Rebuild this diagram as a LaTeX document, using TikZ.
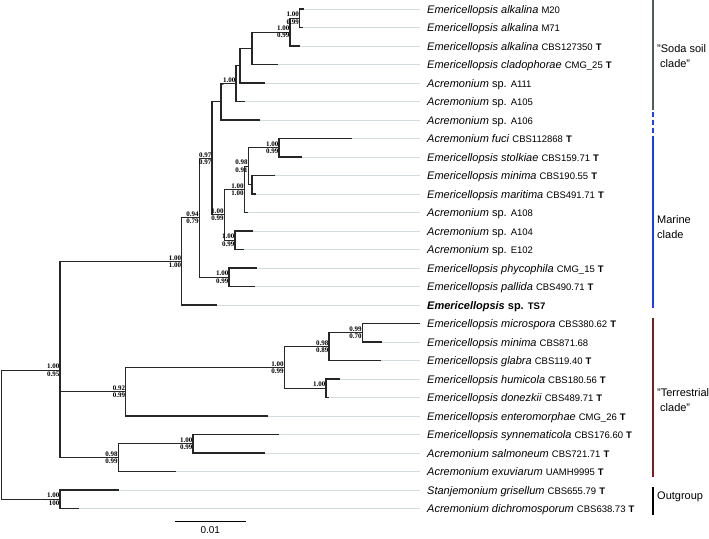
\documentclass[tikz,border=0pt]{standalone}
\usepackage{fontspec}
\setmainfont{Liberation Sans}
\newfontfamily\suppfont{Liberation Serif}

\definecolor{guidegray}{RGB}{208,222,224}
\definecolor{sodagreen}{RGB}{78,96,86}
\definecolor{marineblue}{RGB}{30,60,255}
\definecolor{terrared}{RGB}{120,30,30}

\newcommand{\spn}[1]{\textit{#1}}
\newcommand{\acc}[1]{{\fontsize{9.5}{11}\selectfont #1}}
\newcommand{\typ}{{\fontsize{9.5}{11}\selectfont\bfseries T}}
\newcommand{\supp}[3]{%
  \node[support, anchor=south east] (#1-pp) at (#1) {#2};
  \node[support, anchor=north east] (#1-bs) at (#1) {#3};}

\tikzset{
  branch/.style={draw=black!85, line width=1.1pt},
  guide/.style={draw=guidegray, line width=0.9pt},
  taxon/.style={anchor=west, inner sep=0pt, text height=8pt, text depth=0pt,
    font=\fontsize{11}{13}\selectfont},
  support/.style={inner xsep=0.4pt, inner ysep=1pt,
    font=\suppfont\bfseries\fontsize{7}{8}\selectfont},
  cladebar/.style={line width=1.3pt},
  cladename/.style={anchor=west, align=left, inner sep=0pt,
    font=\fontsize{11}{15}\selectfont},
}

\begin{document}
\begin{tikzpicture}[x=1pt,y=-1pt]
  \useasboundingbox (0,0) rectangle (709,538);

  % tips and guide lines
  \foreach \n/\x [count=\i from 0] in {m20/304,m71/303,alk/300,cla/278,a111/265,
      a105/245,a106/260,fuc/351.7,sto/302,min/275,mar/256,a108/247.7,a104/253,
      e102/244,phy/256.7,pal/255,ts7/216.7,mic/420,mi2/381.7,gla/381,hum/340,
      don/329,ent/268,syn/279,sal/265,exu/176,gri/119,dic/79}{
    \coordinate (\n) at (\x,{9+18.5*\i});
    \coordinate (\n-e) at (420,{9+18.5*\i});
    \draw[guide] (\n) -- (\n-e);
  }

  % taxon names
  \foreach \n/\t in {
      m20/{\spn{Emericellopsis alkalina} \acc{M20}},
      m71/{\spn{Emericellopsis alkalina} \acc{M71}},
      alk/{\spn{Emericellopsis alkalina} \acc{CBS127350} \typ},
      cla/{\spn{Emericellopsis cladophorae} \acc{CMG\_25} \typ},
      a111/{\spn{Acremonium} sp. \acc{A111}},
      a105/{\spn{Acremonium} sp. \acc{A105}},
      a106/{\spn{Acremonium} sp. \acc{A106}},
      fuc/{\spn{Acremonium fuci} \acc{CBS112868} \typ},
      sto/{\spn{Emericellopsis stolkiae} \acc{CBS159.71} \typ},
      min/{\spn{Emericellopsis minima} \acc{CBS190.55} \typ},
      mar/{\spn{Emericellopsis maritima} \acc{CBS491.71} \typ},
      a108/{\spn{Acremonium} sp. \acc{A108}},
      a104/{\spn{Acremonium} sp. \acc{A104}},
      e102/{\spn{Acremonium} sp. \acc{E102}},
      phy/{\spn{Emericellopsis phycophila} \acc{CMG\_15} \typ},
      pal/{\spn{Emericellopsis pallida} \acc{CBS490.71} \typ},
      ts7/{\bfseries\spn{Emericellopsis} sp. \acc{TS7}},
      mic/{\spn{Emericellopsis microspora} \acc{CBS380.62} \typ},
      mi2/{\spn{Emericellopsis minima} \acc{CBS871.68}},
      gla/{\spn{Emericellopsis glabra} \acc{CBS119.40} \typ},
      hum/{\spn{Emericellopsis humicola} \acc{CBS180.56} \typ},
      don/{\spn{Emericellopsis donezkii} \acc{CBS489.71} \typ},
      ent/{\spn{Emericellopsis enteromorphae} \acc{CMG\_26} \typ},
      syn/{\spn{Emericellopsis synnematicola} \acc{CBS176.60} \typ},
      sal/{\spn{Acremonium salmoneum} \acc{CBS721.71} \typ},
      exu/{\spn{Acremonium exuviarum} \acc{UAMH9995} \typ},
      gri/{\spn{Stanjemonium grisellum} \acc{CBS655.79} \typ},
      dic/{\spn{Acremonium dichromosporum} \acc{CBS638.73} \typ}}{
    \node[taxon, xshift=7pt] (\n-t) at (\n-e) {\t};
  }

  % "Soda soil clade"
  \coordinate (nM) at (299.5,18.25);
  \coordinate (nA) at (290,32.1);
  \coordinate (nC) at (252,48.3);
  \coordinate (n111) at (240,65.7);
  \coordinate (n105) at (236,83.6);
  \coordinate (n106) at (221,101.8);
  \draw[branch] (nM) |- (m20) (nM) |- (m71);
  \draw[branch] (nA) |- (nM) (nA) |- (alk);
  \draw[branch] (nC) |- (nA) (nC) |- (cla);
  \draw[branch] (n111) |- (nC) (n111) |- (a111);
  \draw[branch] (n105) |- (n111) (n105) |- (a105);
  \draw[branch] (n106) |- (n105) (n106) |- (a106);

  % Marine clade
  \coordinate (nFS) at (279,147.75);
  \coordinate (nMM) at (252,184.75);
  \coordinate (nFM) at (248.3,166.25);
  \coordinate (n108) at (244.3,189.4);
  \coordinate (nAE) at (235,240.25);
  \coordinate (nMA) at (224.3,214.8);
  \coordinate (n097) at (212,158.3);
  \coordinate (nPP) at (229,277.25);
  \coordinate (n094) at (199.3,217.8);
  \coordinate (n100) at (181.7,261.4);
  \draw[branch] (nFS) |- (fuc) (nFS) |- (sto);
  \draw[branch] (nMM) |- (min) (nMM) |- (mar);
  \draw[branch] (nFM) |- (nFS) (nFM) |- (nMM);
  \draw[branch] (n108) |- (nFM) (n108) |- (a108);
  \draw[branch] (nAE) |- (a104) (nAE) |- (e102);
  \draw[branch] (nMA) |- (n108) (nMA) |- (nAE);
  \draw[branch] (n097) |- (n106) (n097) |- (nMA);
  \draw[branch] (nPP) |- (phy) (nPP) |- (pal);
  \draw[branch] (n094) |- (n097) (n094) |- (nPP);
  \draw[branch] (n100) |- (n094) (n100) |- (ts7);

  % "Terrestrial clade"
  \coordinate (nMC) at (362.3,332.75);
  \coordinate (nGL) at (329,346.6);
  \coordinate (nHD) at (326,388.25);
  \coordinate (nT1) at (284.3,367.4);
  \coordinate (n092) at (125.7,391.7);
  \coordinate (nSS) at (193,443.75);
  \coordinate (n098) at (118.3,457.6);
  \draw[branch] (nMC) |- (mic) (nMC) |- (mi2);
  \draw[branch] (nGL) |- (nMC) (nGL) |- (gla);
  \draw[branch] (nHD) |- (hum) (nHD) |- (don);
  \draw[branch] (nT1) |- (nGL) (nT1) |- (nHD);
  \draw[branch] (n092) |- (nT1) (n092) |- (ent);
  \draw[branch] (nSS) |- (syn) (nSS) |- (sal);
  \draw[branch] (n098) |- (nSS) (n098) |- (exu);

  % ingroup, outgroup, root
  \coordinate (nIN) at (60,370.2);
  \coordinate (nOG) at (60,499.25);
  \coordinate (nR) at (1.5,434.7);
  \draw[branch] (nIN) |- (n100) (nIN) |- (n092) (nIN) |- (n098);
  \draw[branch] (nOG) |- (gri) (nOG) |- (dic);
  \draw[branch] (nR) |- (nIN) (nR) |- (nOG);

  % support values
  \supp{nM}{1.00}{0.99}
  \supp{nA}{1.00}{0.99}
  \node[support, anchor=south east] (n105-pp) at (n105) {1.00};
  \node[support, anchor=north west] (n105-bs) at (n105 -| n106) {-};
  \supp{nFS}{1.00}{0.99}
  \supp{nFM}{0.98}{0.91}
  \supp{n108}{1.00}{1.00}
  \supp{nAE}{1.00}{0.99}
  \supp{nMA}{1.00}{0.99}
  \supp{n097}{0.97}{0.97}
  \supp{nPP}{1.00}{0.99}
  \supp{n094}{0.94}{0.79}
  \supp{n100}{1.00}{1.00}
  \supp{nMC}{0.99}{0.70}
  \supp{nGL}{0.98}{0.89}
  \node[support, anchor=south east] (nHD-pp) at (nHD) {1.00};
  \supp{nT1}{1.00}{0.99}
  \supp{n092}{0.92}{0.99}
  \supp{nSS}{1.00}{0.99}
  \supp{n098}{0.98}{0.99}
  \supp{nIN}{1.00}{0.95}
  \supp{nOG}{1.00}{100}

  % scale bar
  \coordinate (sb-l) at (175,521);
  \coordinate (sb-r) at (245.5,521);
  \draw[line width=1pt] (sb-l) -- node[below=4pt, inner sep=1pt, font=\fontsize{10}{12}\selectfont] (sb-t) {0.01} (sb-r);

  % clade bars
  \coordinate (soda-t) at (653,0);
  \coordinate (soda-b) at (653,110);
  \coordinate (mari-d) at (653,112);
  \coordinate (mari-t) at (653,140);
  \coordinate (mari-b) at (653,308);
  \coordinate (terr-t) at (653,318);
  \coordinate (terr-b) at (653,477);
  \coordinate (outg-t) at (653,487);
  \coordinate (outg-b) at (653,515);
  \draw[cladebar, sodagreen] (soda-t) -- (soda-b);
  \draw[cladebar, marineblue, dash pattern=on 5pt off 3pt] (mari-d) -- (mari-t);
  \draw[cladebar, marineblue] (mari-t) -- (mari-b);
  \draw[cladebar, terrared] (terr-t) -- (terr-b);
  \draw[cladebar, black] (outg-t) -- (outg-b);
  \node[cladename] (soda) at (657,56) {"Soda soil\\\hspace{3pt}clade"};
  \node[cladename] (mari) at (657,227.5) {Marine\\clade};
  \node[cladename] (terr) at (657,400.5) {"Terrestrial\\\hspace{3pt}clade"};
  \node[cladename] (outg) at (657,497) {Outgroup};
\end{tikzpicture}
\end{document}
